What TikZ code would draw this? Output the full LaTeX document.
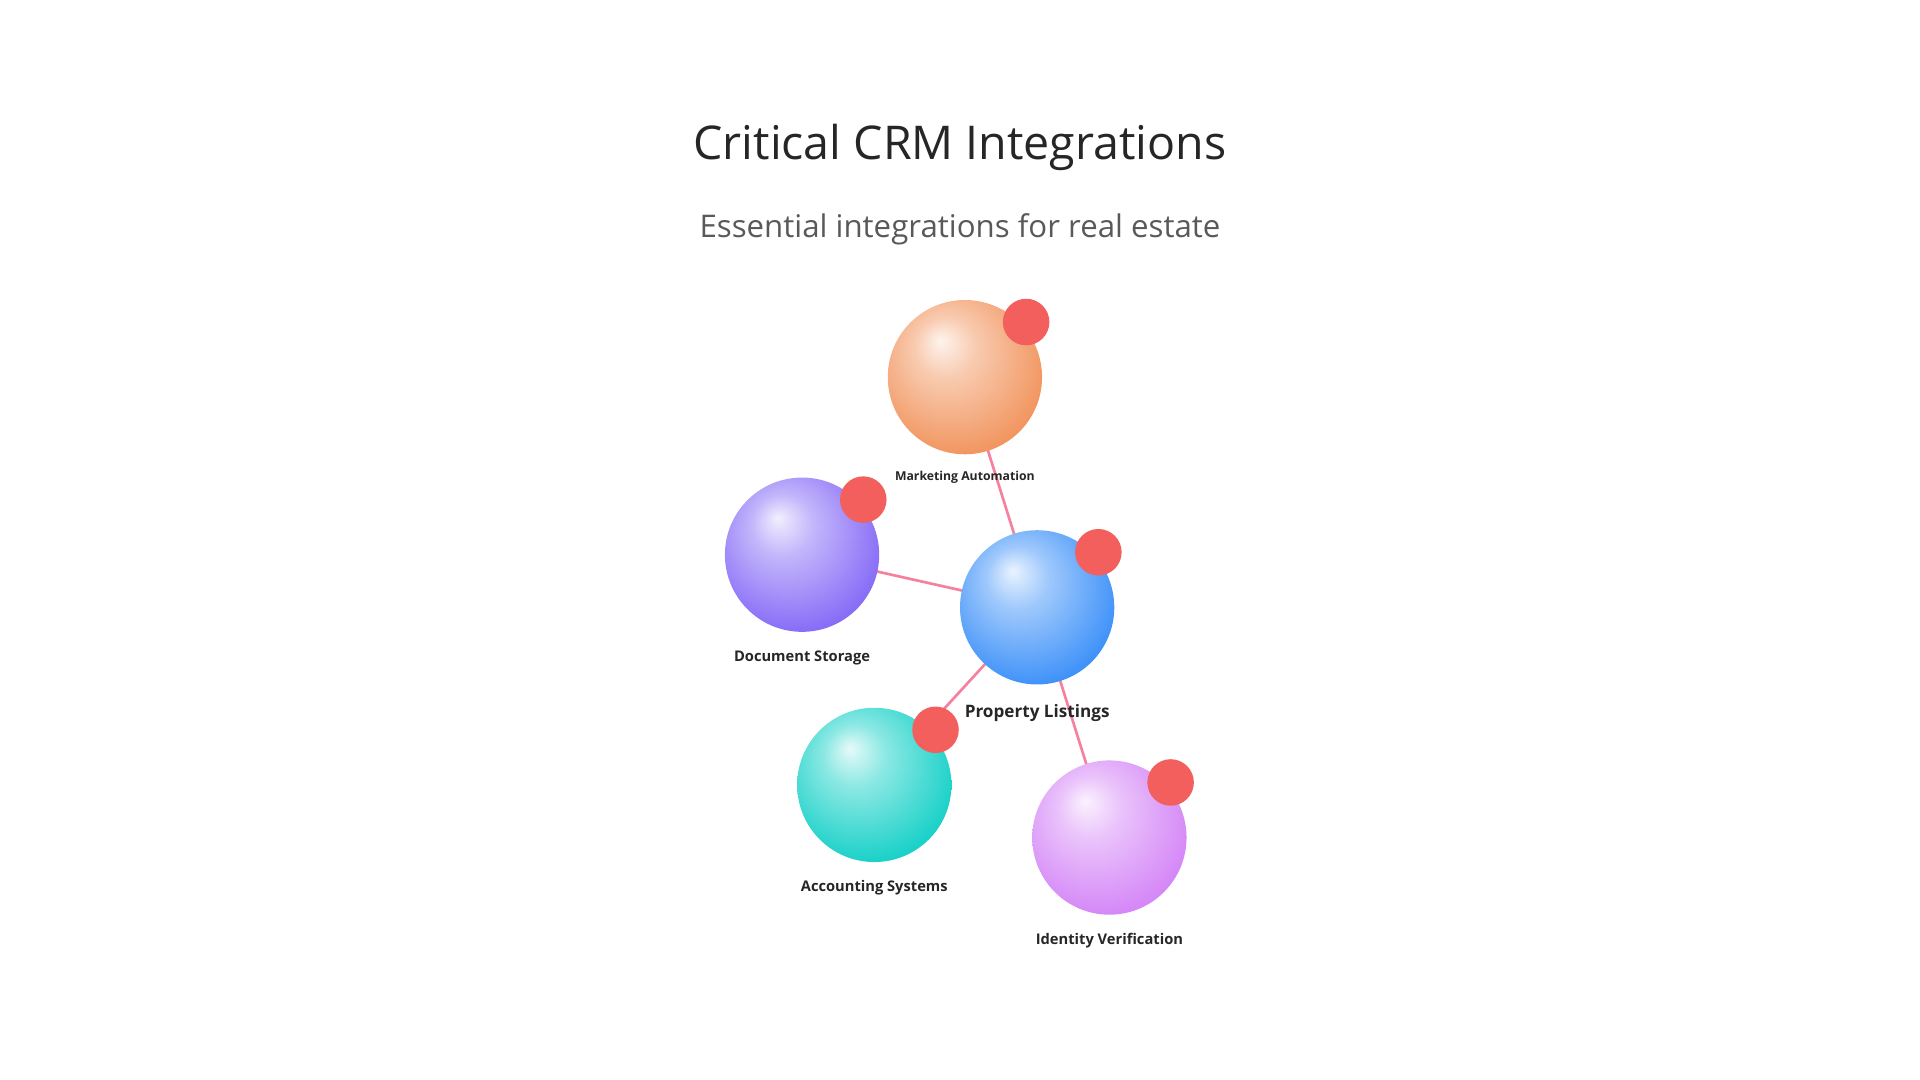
\documentclass[tikz,border=0pt]{standalone}
\usepackage{fontspec}
\setmainfont{Open Sans}
\usepackage{xcolor}
\usetikzlibrary{calc}
\definecolor{linkpink}{HTML}{F4829E}
\definecolor{badgered}{HTML}{F25F5C}
\definecolor{markc}{HTML}{F08A4E}
\definecolor{docsc}{HTML}{7A5CF6}
\definecolor{propc}{HTML}{2A86F8}
\definecolor{acctc}{HTML}{00CCC2}
\definecolor{idenc}{HTML}{D07AF6}
\newcommand{\declareglow}[1]{%
  \pgfdeclareradialshading{glow#1}{\pgfpoint{-8bp}{12bp}}{%
    color(0bp)=(#1c!10!white); color(10bp)=(#1c!45!white);
    color(30bp)=(#1c!90!white); color(50bp)=(#1c)}}
\declareglow{mark}\declareglow{docs}\declareglow{prop}\declareglow{acct}\declareglow{iden}
\tikzset{
  ball/.style={circle, minimum size=126pt, inner sep=0pt},
  badge/.style={circle, fill=badgered, minimum size=38pt, inner sep=0pt},
  lbl/.style={font=\bfseries\fontsize{12}{14}\selectfont, text=black!85},
  link/.style={draw=linkpink, line width=2.2pt}
}
\newcommand{\glowball}[3]{% name, x, y
  \shade[shading=glow#1] (#2,#3) circle (63pt);
  \node[badge] (#1b) at ($(#2,#3)+(50pt,45pt)$) {};
}
\begin{document}
\begin{tikzpicture}[x=1pt,y=-1pt]
  \useasboundingbox (0,0) rectangle (1568,882);
  % titles
  \node[font=\fontsize{38}{44}\selectfont, text=black!85] (title) at (784,120) {Critical CRM Integrations};
  \node[font=\fontsize{25.5}{30}\selectfont, text=black!65] (subtitle) at (784,187) {Essential integrations for real estate};
  % hub and spokes
  \node[ball] (prop) at (847,496) {};
  \node[ball] (mark) at (788,308) {};
  \node[ball] (docs) at (655,453) {};
  \node[ball] (acct) at (714,641) {};
  \node[ball] (iden) at (906,684) {};
  \foreach \n in {mark,docs,acct,iden}
    \draw[link] (prop.center) -- (\n.center);
  % spheres
  \glowball{mark}{788}{308}
  \glowball{docs}{655}{453}
  \glowball{acct}{714}{641}
  \glowball{prop}{847}{496}
  \glowball{iden}{906}{684}
  % labels
  \node[lbl, font=\bfseries\fontsize{10}{12}\selectfont] (markl) at (788,390) {Marketing Automation};
  \node[lbl] (docsl) at (655,537) {Document Storage};
  \node[lbl, font=\bfseries\fontsize{14}{16}\selectfont] (propl) at (847,582) {Property Listings};
  \node[lbl] (acctl) at (714,725) {Accounting Systems};
  \node[lbl] (idenl) at (906,768) {Identity Verification};
\end{tikzpicture}
\end{document}
